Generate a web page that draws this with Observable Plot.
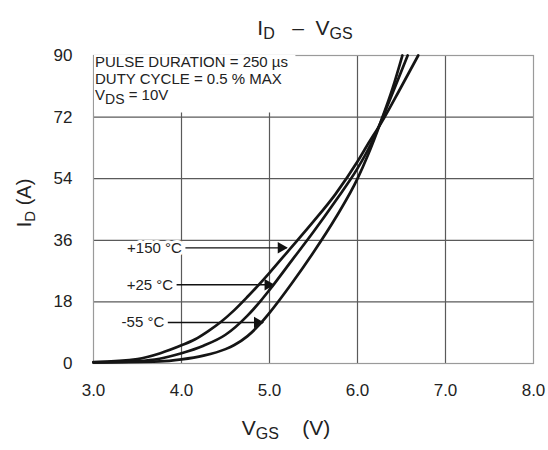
<!DOCTYPE html>
<html><head><meta charset="utf-8">
<script src="https://cdn.jsdelivr.net/npm/d3@7"></script>
<script src="https://cdn.jsdelivr.net/npm/@observablehq/plot@0.6"></script>
<style>body{margin:0;background:#fff}</style>
</head><body><div id="chart"></div>
<script>
// ---- data ----
const vgs150 = [3.0, 3.5, 3.76, 4.0, 4.15, 4.3, 4.45, 4.6, 4.75, 5.0, 5.2, 5.5, 5.75, 6.0, 6.14, 6.27, 6.49, 6.69];
const id150  = [0.4, 1.3, 3.0, 5.3, 7.0, 9.4, 12.2, 15.6, 19.5, 26.5, 32.5, 41.5, 49.5, 59.0, 65.0, 70.3, 80.5, 90];
const vgs25  = [3.0, 3.5, 3.75, 4.0, 4.25, 4.5, 4.75, 4.9, 5.0, 5.25, 5.5, 5.75, 6.0, 6.15, 6.26, 6.43, 6.57];
const id25   = [0.3, 0.7, 1.4, 3.0, 5.2, 8.4, 14.0, 18.3, 21.5, 30.0, 38.5, 47.5, 57.0, 64.0, 70.3, 81.0, 90];
const vgsM55 = [3.0, 3.75, 4.0, 4.25, 4.5, 4.6, 4.75, 4.88, 5.0, 5.25, 5.5, 5.75, 6.0, 6.12, 6.26, 6.40, 6.51];
const idM55  = [0.3, 0.6, 1.2, 2.3, 4.2, 5.4, 8.0, 11.2, 14.8, 23.3, 32.5, 42.5, 54.0, 61.0, 70.3, 80.5, 90];
const seriesNames = ["+150 °C", "+25 °C", "-55 °C"];
const arrowFrom = [4.05, 3.95, 3.85];
const arrowTo   = [5.20, 5.05, 4.93];
const arrowAt   = [33.8, 23.0, 12.0];
const xTicks = [3, 4, 5, 6, 7, 8];
const yTicks = [0, 18, 36, 54, 72, 90];
const xGrid = [4, 5, 6, 7];
const yGrid = [18, 36, 54, 72];
const noteLines = ["PULSE DURATION = 250 µs", "DUTY CYCLE = 0.5 % MAX"];
const noteBox = {x1: 3.0, x2: 5.3, y1: 73.2, y2: 90};

// ---- build tables ----
const curves = [];
[[vgs150, id150, seriesNames[0]], [vgs25, id25, seriesNames[1]], [vgsM55, idM55, seriesNames[2]]].forEach(([xs, ys, name]) => {
  xs.forEach((v, i) => curves.push({series: name, vgs: v, id: ys[i]}));
});
const arrows = seriesNames.map((s, i) => ({label: s, x1: arrowFrom[i], x2: arrowTo[i], y: arrowAt[i]}));

const FONT = "'Liberation Sans', Arial, Helvetica, sans-serif";
const chart = Plot.plot({
  width: 548, height: 450,
  marginLeft: 93, marginRight: 15, marginTop: 55, marginBottom: 87,
  style: {fontFamily: FONT, background: "white", color: "#222"},
  x: {domain: [3, 8]},
  y: {domain: [0, 90]},
  marks: [
    Plot.ruleX(xGrid, {stroke: "#5a5a5a", strokeWidth: 1.2}),
    Plot.ruleY(yGrid, {stroke: "#5a5a5a", strokeWidth: 1.2}),
    Plot.frame({stroke: "#9a9a9a", strokeWidth: 1.2}),
    Plot.rect([noteBox], {x1: "x1", x2: "x2", y1: "y1", y2: "y2", fill: "white", insetLeft: 1}),
    Plot.axisX(xTicks, {tickSize: 0, tickPadding: 20, fontSize: 17, tickFormat: d3.format(".1f"), label: null}),
    Plot.axisY(yTicks, {tickSize: 0, tickPadding: 21, fontSize: 17, label: null}),
    Plot.text(arrows, {x: "x1", y: "y", text: "label", textAnchor: "end", dx: -4, fontSize: 15,
      fill: "#222", stroke: "white", strokeWidth: 6}),
    Plot.ruleY(arrows, {y: "y", x1: "x1", x2: "x2", stroke: "#111", strokeWidth: 1.4}),
    Plot.dot(arrows, {x: "x2", y: "y", symbol: "triangle", rotate: 90, r: 4.3, fill: "#111", stroke: "none", dx: -6}),
    Plot.line(curves, {x: "vgs", y: "id", z: "series", stroke: "#151515", strokeWidth: 2.7, curve: "monotone-x"})
  ]
});
document.getElementById("chart").appendChild(chart);

// ---- rich text with subscripts ----
const svg = d3.select(chart);
function rich(g, x, y, parts, size, subSize, shift, anchor) {
  const t = g.append("text").attr("x", x).attr("y", y).attr("font-size", size)
    .attr("text-anchor", anchor || "start").attr("fill", "#222").attr("font-family", FONT)
    .style("white-space", "pre");
  let cur = 0;
  parts.forEach(([s, sub]) => {
    const target = sub ? shift : 0;
    t.append("tspan").text(s).attr("font-size", sub ? subSize : size).attr("dy", target - cur);
    cur = target;
  });
  return t;
}
const sx = chart.scale("x"), sy = chart.scale("y");
const nx = sx.apply(3.0) + 2, ny = sy.apply(90);
noteLines.forEach((s, i) => rich(svg, nx, ny + 12 + i * 16.5, [[s]], 15, 15, 0));
rich(svg, nx, ny + 45, [["V"], ["DS", true], [" = 10V"]], 15, 14, 4);

rich(svg, 305, 35, [["I"], ["D", true], ["   –  V"], ["GS", true]], 21, 16, 4, "middle");
rich(svg, 286, 435, [["V"], ["GS", true], ["    (V)"]], 21, 16, 4, "middle");
const yl = svg.append("g").attr("transform", "translate(31,203) rotate(-90)");
rich(yl, 0, 0, [["I"], ["D", true], [" (A)"]], 20, 15, 4, "middle");
</script>
</body></html>
